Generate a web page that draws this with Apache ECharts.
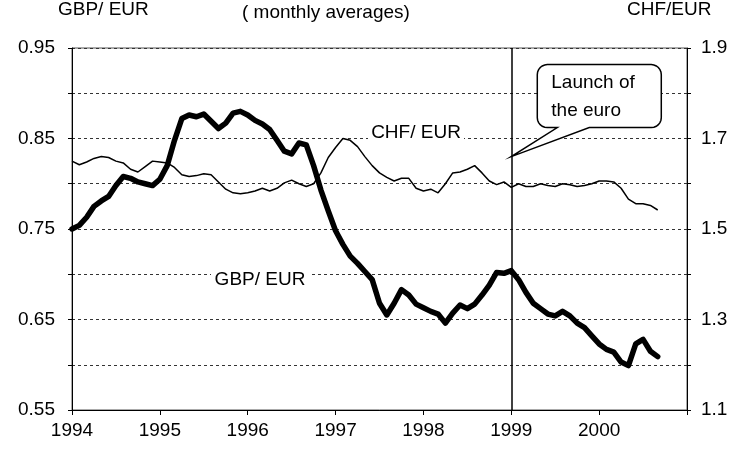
<!DOCTYPE html>
<html>
<head>
<meta charset="utf-8">
<script src="https://cdn.jsdelivr.net/npm/echarts@6/dist/echarts.min.js"></script>
<style>
  html, body { margin: 0; padding: 0; background: #fff; }
  #chart { width: 735px; height: 449px; }
</style>
</head>
<body>
<div id="chart"></div>
<script>
// monthly averages, Jan 1994 .. Sep 2000
const years = [1994, 1995, 1996, 1997, 1998, 1999, 2000, 2001]
const gbpEur = [
  0.750, 0.754, 0.763, 0.775, 0.781, 0.786, 0.798, 0.808, 0.806, 0.802, 0.800, 0.798,
  0.805, 0.820, 0.848, 0.872, 0.876, 0.874, 0.877, 0.869, 0.861, 0.867, 0.878, 0.880,
  0.876, 0.870, 0.866, 0.860, 0.848, 0.836, 0.833, 0.845, 0.843, 0.820, 0.793, 0.770,
  0.748, 0.733, 0.720, 0.712, 0.703, 0.694, 0.668, 0.655, 0.668, 0.683, 0.677, 0.667,
  0.663, 0.659, 0.656, 0.646, 0.657, 0.666, 0.662, 0.667, 0.677, 0.688, 0.702, 0.701,
  0.704, 0.694, 0.680, 0.668, 0.662, 0.656, 0.654, 0.659, 0.654, 0.646, 0.641, 0.632,
  0.623, 0.617, 0.614, 0.603, 0.599, 0.623, 0.628, 0.615, 0.609
]
const chfEur = [
  1.650, 1.642, 1.648, 1.656, 1.660, 1.658, 1.650, 1.646, 1.632, 1.626, 1.638, 1.650,
  1.648, 1.646, 1.636, 1.620, 1.616, 1.618, 1.622, 1.620, 1.604, 1.588, 1.580, 1.578,
  1.580, 1.584, 1.590, 1.584, 1.590, 1.602, 1.608, 1.600, 1.594, 1.600, 1.624, 1.658,
  1.680, 1.700, 1.696, 1.682, 1.660, 1.640, 1.624, 1.614, 1.606, 1.612, 1.612, 1.590,
  1.584, 1.588, 1.580, 1.600, 1.624, 1.626, 1.632, 1.640, 1.624, 1.606, 1.598, 1.604,
  1.592, 1.600, 1.594, 1.594, 1.600, 1.596, 1.594, 1.600, 1.598, 1.594, 1.596, 1.600,
  1.606, 1.606, 1.604, 1.590, 1.566, 1.556, 1.556, 1.552, 1.542
]
const euroLaunch = '1999-01'

// month categories Jan 1994 .. Jan 2001
const months = []
years.forEach(y => {
  for (let m = 1; m <= 12; m++) {
    if (y === 2001 && m > 1) break
    months.push(y + '-' + String(m).padStart(2, '0'))
  }
})

const font = "'Liberation Sans', Arial, sans-serif"
const chart = echarts.init(document.getElementById('chart'))

chart.setOption({
  animation: false,
  textStyle: { fontFamily: font },
  grid: {
    left: 72, right: 48, top: 48, bottom: 39,
    show: true, borderColor: '#555', borderWidth: 1
  },
  xAxis: {
    type: 'category',
    data: months,
    boundaryGap: false,
    axisLine: { lineStyle: { color: '#000', width: 1 } },
    axisTick: { interval: 11, length: 5, lineStyle: { color: '#000' } },
    axisLabel: {
      interval: 11,
      margin: 11,
      fontSize: 19,
      color: '#000',
      fontFamily: font,
      formatter: v => (v.endsWith('-01') && !v.startsWith('2001')) ? v.slice(0, 4) : ''
    },
    splitLine: { show: false }
  },
  yAxis: [
    {
      type: 'value',
      position: 'left',
      min: 0.55, max: 0.95, interval: 0.05,
      axisLine: { show: true, lineStyle: { color: '#000', width: 1 } },
      axisTick: { show: true, length: 4, lineStyle: { color: '#000' } },
      axisLabel: {
        margin: 17,
        fontSize: 19,
        color: '#000',
        fontFamily: font,
        formatter: v => (Math.round(v * 100) % 10 === 5 ? v.toFixed(2) : '')
      },
      splitLine: { show: true, lineStyle: { color: '#333', width: 1, type: [3, 3] } }
    },
    {
      type: 'value',
      position: 'right',
      min: 1.1, max: 1.9, interval: 0.1,
      axisLine: { show: true, lineStyle: { color: '#000', width: 1 } },
      axisTick: { show: true, length: 4, lineStyle: { color: '#000' } },
      axisLabel: {
        margin: 14,
        fontSize: 19,
        color: '#000',
        fontFamily: font,
        formatter: v => (Math.round(v * 10) % 2 === 1 ? v.toFixed(1) : '')
      },
      splitLine: { show: false }
    }
  ],
  series: [
    {
      name: 'CHF/ EUR',
      type: 'line',
      yAxisIndex: 1,
      data: chfEur,
      showSymbol: false,
      lineStyle: { color: '#000', width: 1.5 },
      z: 3
    },
    {
      name: 'GBP/ EUR',
      type: 'line',
      yAxisIndex: 0,
      data: gbpEur,
      showSymbol: false,
      lineStyle: { color: '#000', width: 5.5, join: 'round', cap: 'round' },
      z: 4,
      markLine: {
        silent: true,
        symbol: 'none',
        label: { show: false },
        lineStyle: { color: '#000', width: 1.5, type: 'solid' },
        data: [{ xAxis: euroLaunch }]
      }
    }
  ]
})

// speech bubble outline: rounded box with a tail pointing at the 1999 line
const tip = chart.convertToPixel({ xAxisIndex: 0, yAxisIndex: 0 }, [euroLaunch, 0.83])
const bx = tip[0] + 26, by = tip[1] - 92, bw = 124, bh = 63, r = 10
const pts = []
const corner = (cx, cy, a0) => {
  for (let k = 0; k <= 6; k++) {
    const a = (a0 + k * 15) * Math.PI / 180
    pts.push([cx + r * Math.cos(a), cy + r * Math.sin(a)])
  }
}
corner(bx + r, by + r, 180)             // top-left
corner(bx + bw - r, by + r, 270)        // top-right
corner(bx + bw - r, by + bh - r, 0)     // bottom-right
pts.push([bx + 52, by + bh], [tip[0], tip[1]], [bx + 20, by + bh])
corner(bx + r, by + bh - r, 90)         // bottom-left

const txt = (x, y, text, extra) => ({
  type: 'text',
  x: x, y: y,
  style: Object.assign({
    text: text, fill: '#000', font: '19px ' + font,
    verticalAlign: 'middle', align: 'left'
  }, extra || {}),
  z: 10
})

chart.setOption({
  graphic: [
    txt(58, 10, 'GBP/ EUR'),
    txt(242, 13, '( monthly averages)'),
    txt(627, 10, 'CHF/EUR'),
    { type: 'rect', shape: { x: 368, y: 122, width: 96, height: 22 }, style: { fill: '#fff' }, z: 9 },
    txt(416, 133, 'CHF/ EUR', { align: 'center' }),
    { type: 'rect', shape: { x: 211, y: 269, width: 98, height: 22 }, style: { fill: '#fff' }, z: 9 },
    txt(260, 280, 'GBP/ EUR', { align: 'center' }),
    {
      type: 'polygon',
      shape: { points: pts },
      style: { fill: '#fff', stroke: '#000', lineWidth: 1.5 },
      z: 9
    },
    txt(bx + 14, by + 18, 'Launch of'),
    txt(bx + 14, by + 46, 'the euro')
  ]
})
</script>
</body>
</html>
